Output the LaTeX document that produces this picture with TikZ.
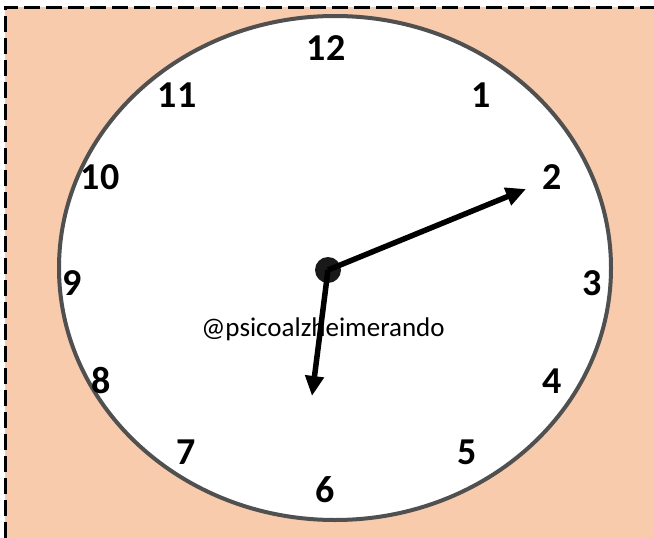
\documentclass[tikz,border=0pt]{standalone}
\usepackage{fontspec}
\setmainfont{Carlito}
\usetikzlibrary{positioning,shapes.geometric,arrows.meta}
\definecolor{peach}{HTML}{F8CBAD}
\definecolor{rim}{HTML}{505050}
\tikzset{%
  >={Triangle[length=20pt,width=18pt]},
  face/.style={ellipse,draw=rim,line width=4pt,fill=white,inner sep=0pt,%
    minimum width=552pt,minimum height=504pt},
  hub/.style={circle,fill=black!90,inner sep=0pt,minimum size=26pt},
  hour/.style={font=\fontsize{38}{38}\selectfont\bfseries,inner sep=0pt},
  hand/.style={draw,line width=5.5pt,->},
  frame/.style={line width=3pt,dash pattern=on 16pt off 6pt}
}
\begin{document}
\begin{tikzpicture}[x=1pt,y=-1pt]
	\useasboundingbox (0,0) rectangle (654,538);
	\fill[peach] (5,7) rectangle (654,538);
	\draw[frame] (5,538) -- (5,7) -- (654,7);
	\node[face] (clock) at (335,268) {};
	\foreach \h/\x/\y in {12/326/48,1/481/95,2/552/177,3/592/283,4/552/381,%
		5/467/452,6/325/490,7/186/452,8/101/381,9/72/283,10/100/177,11/177/95}
		\node[hour] (h\h) at (\x,\y) {\h};
	\node[font=\fontsize{27}{27}\selectfont] (tag) at (323,329) {@psicoalzheimerando};
	\coordinate (hourtip) at (526,189);
	\coordinate (minutetip) at (312,396);
	\node[hub] (hub) at (328,270) {};
	\draw[hand] (hub.center) -- (hourtip);
	\draw[hand] (hub.center) -- (minutetip);
\end{tikzpicture}
\end{document}
